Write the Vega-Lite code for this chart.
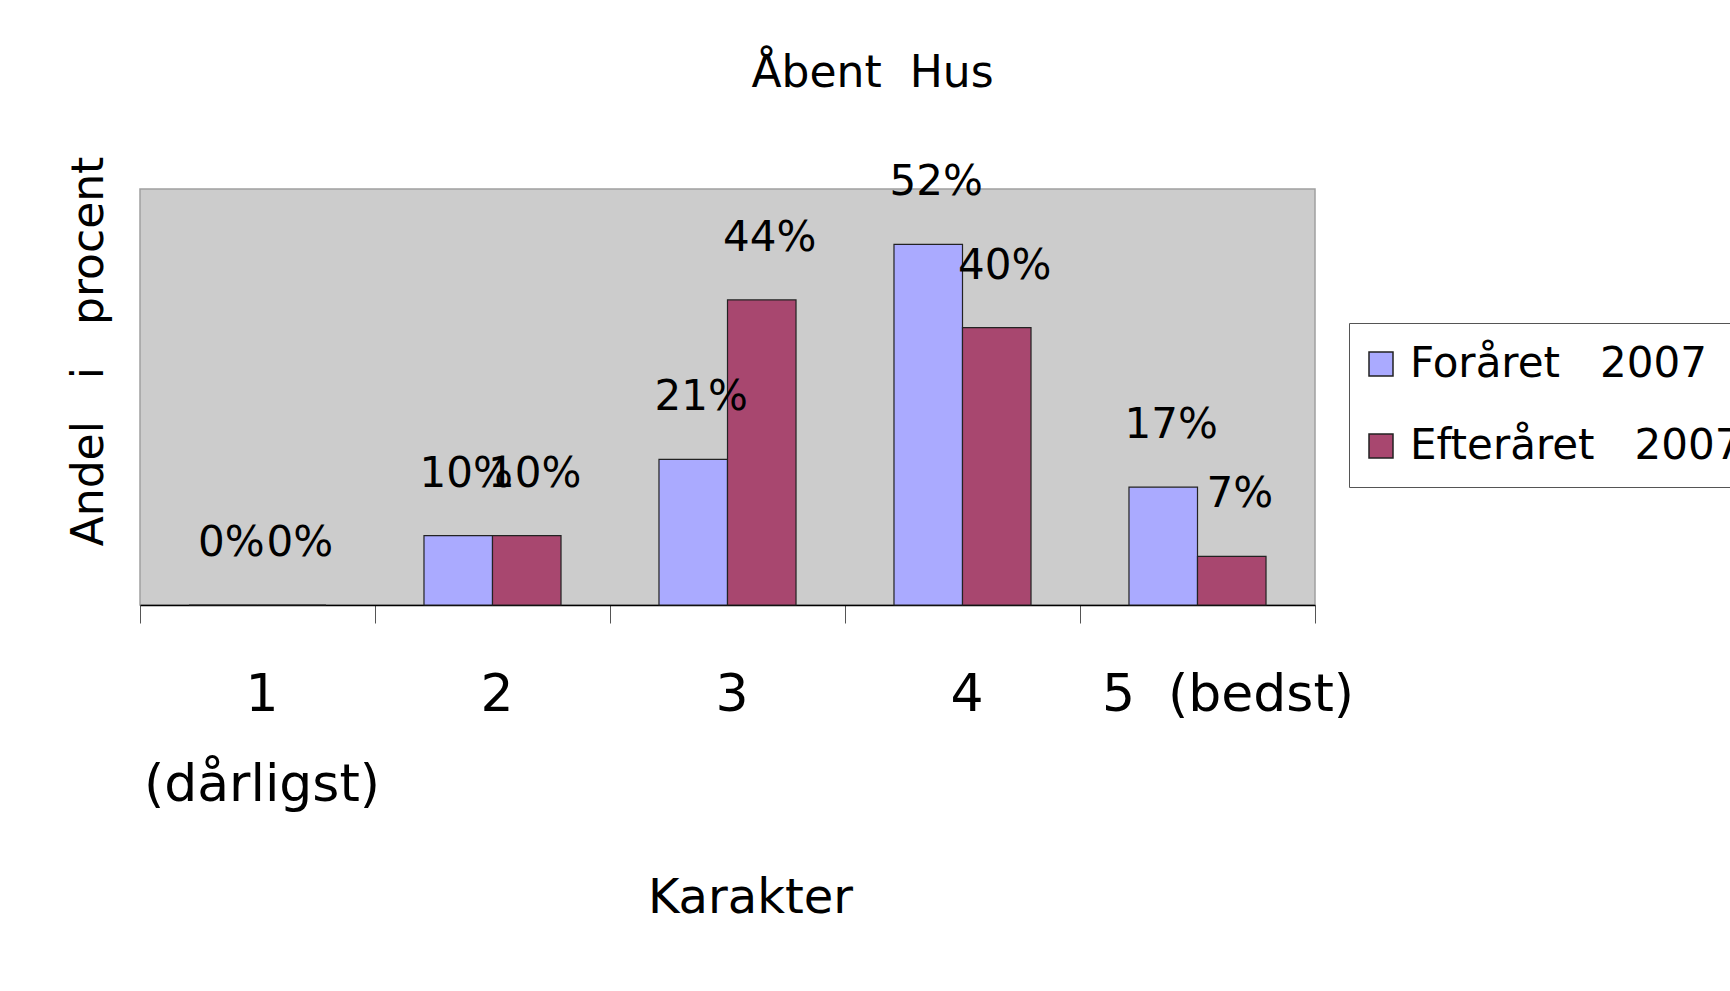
{
  "$schema": "https://vega.github.io/schema/vega-lite/v6.json",
  "width": 1175,
  "height": 416,
  "autosize": {"type": "none"},
  "padding": {"left": 140, "top": 189, "right": 415, "bottom": 386},
  "background": "white",
  "title": {"text": "Åbent \u00a0Hus", "fontSize": 44, "font": "DejaVu Sans", "fontWeight": "normal", "anchor": "middle", "dx": 145, "baseline": "alphabetic", "offset": 25, "color": "black"},
  "data": {"values": [
    {"karakter": "1 (dårligst)", "periode": "Foråret \u00a0\u00a02007", "andel": 0.0},
    {"karakter": "1 (dårligst)", "periode": "Efteråret \u00a0\u00a02007", "andel": 0.0},
    {"karakter": "2", "periode": "Foråret \u00a0\u00a02007", "andel": 0.10},
    {"karakter": "2", "periode": "Efteråret \u00a0\u00a02007", "andel": 0.10},
    {"karakter": "3", "periode": "Foråret \u00a0\u00a02007", "andel": 0.21},
    {"karakter": "3", "periode": "Efteråret \u00a0\u00a02007", "andel": 0.44},
    {"karakter": "4", "periode": "Foråret \u00a0\u00a02007", "andel": 0.52},
    {"karakter": "4", "periode": "Efteråret \u00a0\u00a02007", "andel": 0.40},
    {"karakter": "5 \u00a0(bedst)", "periode": "Foråret \u00a0\u00a02007", "andel": 0.17},
    {"karakter": "5 \u00a0(bedst)", "periode": "Efteråret \u00a0\u00a02007", "andel": 0.07}
  ]},
  "encoding": {
    "x": {
      "field": "karakter", "type": "nominal",
      "sort": ["1 (dårligst)", "2", "3", "4", "5 \u00a0(bedst)"],
      "scale": {"paddingInner": 0, "paddingOuter": 0},
      "axis": {
        "title": "Karakter", "titleFontSize": 48, "titleFontWeight": "normal", "titleColor": "black",
        "titleX": 610, "titleY": 307, "titleBaseline": "alphabetic", "titleAlign": "center",
        "labelAngle": 0, "labelFontSize": 52, "labelColor": "black", "labelPadding": 46, "labelLineHeight": 90,
        "labelLimit": 600, "labelOverlap": false,
        "labelOffset": {"condition": {"test": "datum.value == '5 \u00a0(bedst)'", "value": 30}, "value": 4},
        "labelExpr": "datum.value == '1 (dårligst)' ? ['1', '\u00a0\u00a0(dårligst)'] : datum.label",
        "tickSize": 18, "tickBand": "extent", "tickColor": "#555555", "domainColor": "black", "domainWidth": 1.5
      }
    },
    "xOffset": {"field": "periode", "type": "nominal", "sort": ["Foråret \u00a0\u00a02007", "Efteråret \u00a0\u00a02007"], "scale": {"paddingInner": 0, "paddingOuter": 0.715}},
    "y": {
      "field": "andel", "type": "quantitative",
      "scale": {"domain": [0, 0.6], "nice": false},
      "axis": {
        "title": "Andel \u00a0\u00a0i \u00a0\u00a0procent", "labels": false, "ticks": false, "domain": false, "grid": false,
        "titleFontSize": 44, "titleFontWeight": "normal", "titleColor": "black", "titleAngle": 270,
        "titleX": -38, "titleY": 162, "titleBaseline": "alphabetic", "titleAlign": "center"
      }
    }
  },
  "layer": [
    {
      "mark": {"type": "bar", "stroke": "#222222", "strokeWidth": 1.2},
      "encoding": {
        "color": {
          "field": "periode", "type": "nominal",
          "scale": {"domain": ["Foråret \u00a0\u00a02007", "Efteråret \u00a0\u00a02007"], "range": ["#AAAAFF", "#A8476F"]},
          "legend": {
            "title": null, "orient": "none", "legendX": 1209, "legendY": 134,
            "labelFontSize": 42, "labelColor": "black", "labelLimit": 600, "labelOffset": 8,
            "symbolType": "square", "symbolSize": 576, "symbolStrokeColor": "#222222", "symbolStrokeWidth": 1.5,
            "symbolOffset": -9,
            "strokeColor": "#555555", "fillColor": "white", "padding": 20, "rowPadding": 40
          }
        }
      }
    },
    {
      "mark": {"type": "text", "fontSize": 42, "dx": 8, "dy": -49, "baseline": "alphabetic", "align": "center", "color": "black"},
      "encoding": {
        "text": {"field": "andel", "type": "quantitative", "format": ".0%"}
      }
    }
  ],
  "config": {
    "font": "DejaVu Sans",
    "view": {"fill": "#CCCCCC", "stroke": "#A0A0A0", "strokeWidth": 1.5}
  }
}
